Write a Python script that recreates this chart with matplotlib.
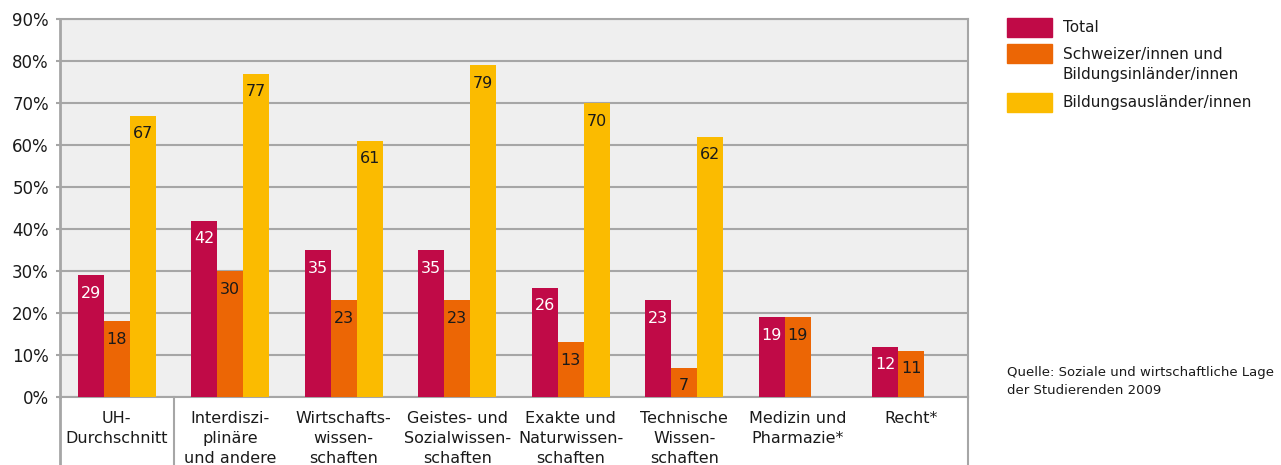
import matplotlib
matplotlib.use("Agg")
import matplotlib.pyplot as plt
import numpy as np
from matplotlib.patches import Rectangle
from matplotlib.lines import Line2D

categories = [
    "UH-\nDurchschnitt",
    "Interdiszi-\nplinäre\nund andere",
    "Wirtschafts-\nwissen-\nschaften",
    "Geistes- und\nSozialwissen-\nschaften",
    "Exakte und\nNaturwissen-\nschaften",
    "Technische\nWissen-\nschaften",
    "Medizin und\nPharmazie*",
    "Recht*",
]
total = [29, 42, 35, 35, 26, 23, 19, 12]
schweizer = [18, 30, 23, 23, 13, 7, 19, 11]
auslaender = [67, 77, 61, 79, 70, 62, None, None]

series_names = ["Total", "Schweizer/innen und\nBildungsinländer/innen", "Bildungsausländer/innen"]
colors = ["#c00a47", "#ec6605", "#fbbb00"]
label_colors = ["white", "#1a1a1a", "#1a1a1a"]
y_ticks = [0, 10, 20, 30, 40, 50, 60, 70, 80, 90]
source_text = "Quelle: Soziale und wirtschaftliche Lage\nder Studierenden 2009"

plt.rcParams["font.family"] = ["DejaVu Sans"]
W, H = 1281, 465
fig = plt.figure(figsize=(W / 100, H / 100), dpi=100)
ax = fig.add_axes([60 / W, (H - 397) / H, 908 / W, 378 / H])
ax.set_facecolor("#efefef")

grid_c = "#a6a6a6"
text_c = "#1a1a1a"
x = np.arange(len(categories))
bw = 0.23
for i, (vals, col, lc) in enumerate(zip([total, schweizer, auslaender], colors, label_colors)):
    for j, v in enumerate(vals):
        if v is None:
            continue
        xp = x[j] + (i - 1) * bw
        ax.bar(xp, v, width=bw, color=col, zorder=3)
        ax.text(xp, v - 4.3, f"{v}", ha="center", va="center", color=lc,
                fontsize=11.5, zorder=4)

ax.set_xlim(-0.5, len(categories) - 0.5)
ax.set_ylim(0, 90)
ax.set_yticks(y_ticks)
ax.set_yticklabels([f"{t}%" for t in y_ticks], fontsize=12, color=text_c)
ax.yaxis.grid(True, color=grid_c, linewidth=1.5, zorder=1)
ax.tick_params(axis="y", length=3, width=1.5, color=grid_c, pad=5)
ax.set_xticks([])
for s in ax.spines.values():
    s.set_color(grid_c)
    s.set_linewidth(1.5)
ax.spines["left"].set_linewidth(2)

# category labels below the axis
for j, c in enumerate(categories):
    ax.text(x[j], -3.3, c, ha="center", va="top", fontsize=11.5, color=text_c,
            linespacing=1.42, clip_on=False)

# vertical separators in the label area
for xv in [-0.5, 0.5, len(categories) - 0.5]:
    ax.add_line(Line2D([xv, xv], [0, -25], color=grid_c,
                       linewidth=2 if xv == -0.5 else 1.5, clip_on=False))

# legend
lx, lw_, lh = 1007 / W, 45 / W, 19 / H
rect_tops = [18, 44, 93]
text_y = [28, 64.5, 103]
for top, name, col, ty in zip(rect_tops, series_names, colors, text_y):
    fig.patches.append(Rectangle((lx, 1 - (top + 19) / H), lw_, lh, color=col,
                                 transform=fig.transFigure, figure=fig))
    fig.text(1063 / W, 1 - ty / H, name, ha="left", va="center",
             fontsize=11, color=text_c, linespacing=1.45)

fig.text(1007 / W, 1 - 381.5 / H, source_text, ha="left", va="center", fontsize=9.5,
         color=text_c, linespacing=1.55)

fig.savefig("out.png", dpi=100, facecolor="white")
